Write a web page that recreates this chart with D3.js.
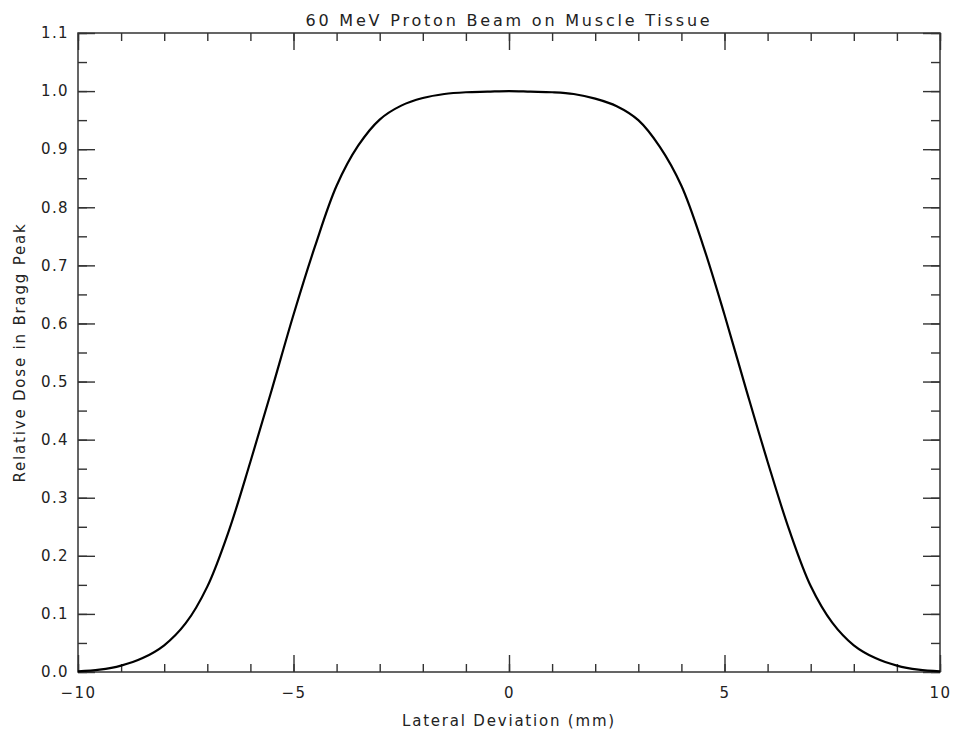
<!DOCTYPE html>
<html>
<head>
<meta charset="utf-8">
<script src="https://cdn.jsdelivr.net/npm/d3@7"></script>
<style>
	body { margin: 0; background: #fff; }
	svg text { font-family: "DejaVu Sans", sans-serif; fill: #222; }
</style>
</head>
<body>
<div id="chart"></div>
<script>
// lateral position (mm) and relative dose
var lateral = [-10, -9.5, -9, -8.5, -8, -7.5, -7, -6.5, -6, -5.5, -5, -4.5, -4, -3.5, -3, -2.5, -2, -1.5, -1, -0.5,
	0, 0.5, 1, 1.5, 2, 2.5, 3, 3.5, 4, 4.5, 5, 5.5, 6, 6.5, 7, 7.5, 8, 8.5, 9, 9.5, 10];
var dose = [0.001, 0.004, 0.011, 0.024, 0.046, 0.084, 0.147, 0.243, 0.362, 0.487, 0.615, 0.733, 0.837, 0.906, 0.951, 0.975, 0.988, 0.995, 0.998, 0.999,
	1.000, 0.999, 0.998, 0.995, 0.987, 0.974, 0.950, 0.904, 0.837, 0.735, 0.615, 0.487, 0.362, 0.245, 0.148, 0.085, 0.046, 0.024, 0.011, 0.004, 0.001];

var xMajor = [-10, -5, 0, 5, 10];
var xMinor = d3.range(-10, 10.001, 1);
var yMajor = [0, 0.1, 0.2, 0.3, 0.4, 0.5, 0.6, 0.7, 0.8, 0.9, 1.0, 1.1];
var yMinor = d3.range(0, 1.1001, 0.05);

var titleText = "60 MeV Proton Beam on Muscle Tissue";
var xTitle = "Lateral Deviation (mm)";
var yTitle = "Relative Dose in Bragg Peak";

var W = 958, H = 732;
var margin = {top: 33, right: 18, bottom: 60, left: 78};
var width = W - margin.left - margin.right,
	height = H - margin.top - margin.bottom;

var svg = d3.select("#chart")
	.append("svg")
	.attr("width", W)
	.attr("height", H)
	.append("g")
	.attr("transform", "translate(" + margin.left + "," + margin.top + ")");

var x = d3.scaleLinear().domain([-10, 10]).range([0, width]);
var y = d3.scaleLinear().domain([0, 1.1]).range([height, 0]);

function styleAxis(g) {
	g.select(".domain").remove();
	g.selectAll("line").attr("stroke", "#333").attr("stroke-width", 1.4);
	g.selectAll("text").attr("font-size", "15px").attr("fill", "#222").style("letter-spacing", "1.4px");
}

// minor ticks on all sides
svg.append("g").attr("transform", "translate(0," + height + ")")
	.call(d3.axisBottom(x).tickValues(xMinor).tickSize(-8).tickFormat(""))
	.call(styleAxis);
svg.append("g")
	.call(d3.axisTop(x).tickValues(xMinor).tickSize(-8).tickFormat(""))
	.call(styleAxis);
svg.append("g")
	.call(d3.axisLeft(y).tickValues(yMinor).tickSize(-9).tickFormat(""))
	.call(styleAxis);
svg.append("g").attr("transform", "translate(" + width + ",0)")
	.call(d3.axisRight(y).tickValues(yMinor).tickSize(-9).tickFormat(""))
	.call(styleAxis);

// major ticks + labels
svg.append("g").attr("transform", "translate(0," + height + ")")
	.call(d3.axisBottom(x).tickValues(xMajor).tickSize(-17).tickPadding(15).tickFormat(d3.format("d")))
	.call(styleAxis);
svg.append("g")
	.call(d3.axisTop(x).tickValues(xMajor).tickSize(-17).tickFormat(""))
	.call(styleAxis);
svg.append("g")
	.call(d3.axisLeft(y).tickValues(yMajor).tickSize(-17).tickPadding(9).tickFormat(d3.format(".1f")))
	.call(styleAxis);
svg.append("g").attr("transform", "translate(" + width + ",0)")
	.call(d3.axisRight(y).tickValues(yMajor).tickSize(-17).tickFormat(""))
	.call(styleAxis);

// frame
svg.append("rect")
	.attr("x", 0).attr("y", 0)
	.attr("width", width).attr("height", height)
	.attr("fill", "none")
	.attr("stroke", "#333")
	.attr("stroke-width", 1.5);

// dose profile
var line = d3.line()
	.x(function(d, i) { return x(lateral[i]); })
	.y(function(d) { return y(d); })
	.curve(d3.curveCatmullRom.alpha(0.5));

svg.append("path")
	.datum(dose)
	.attr("d", line)
	.attr("fill", "none")
	.attr("stroke", "#000")
	.attr("stroke-width", 2.2);

// titles
svg.append("text")
	.attr("x", width / 2).attr("y", -7)
	.attr("text-anchor", "middle")
	.attr("font-size", "16px")
	.style("letter-spacing", "2.8px")
	.text(titleText);

svg.append("text")
	.attr("x", width / 2).attr("y", height + 54)
	.attr("text-anchor", "middle")
	.attr("font-size", "15px")
	.style("letter-spacing", "1.8px")
	.text(xTitle);

svg.append("text")
	.attr("transform", "translate(" + (-53) + "," + (height / 2) + ") rotate(-90)")
	.attr("text-anchor", "middle")
	.attr("font-size", "15px")
	.style("letter-spacing", "1.8px")
	.text(yTitle);
</script>
</body>
</html>
